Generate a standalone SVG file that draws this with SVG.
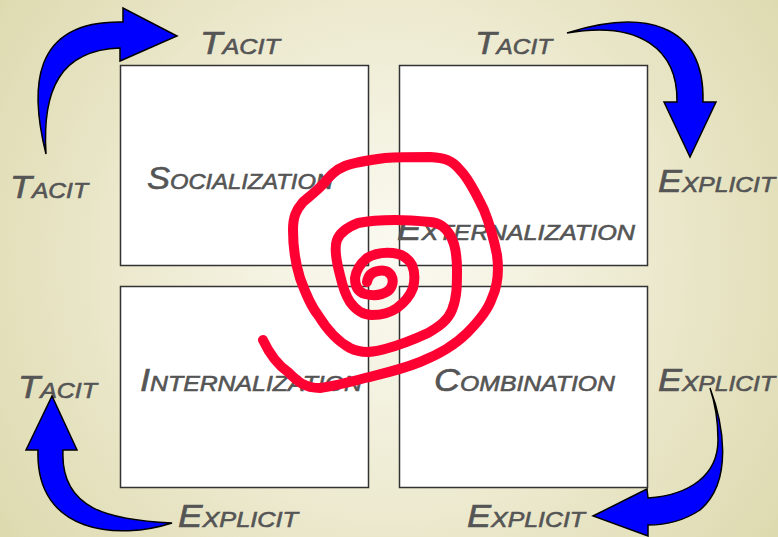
<svg xmlns="http://www.w3.org/2000/svg" width="778" height="537" viewBox="0 0 778 537">
  <defs>
    <radialGradient id="bg" cx="390" cy="260" r="470" gradientUnits="userSpaceOnUse">
      <stop offset="0" stop-color="#fbfaf2"/>
      <stop offset="0.35" stop-color="#f2f0dc"/>
      <stop offset="1" stop-color="#dedab0"/>
    </radialGradient>
    <style>
      .box { fill: #ffffff; stroke: #333333; stroke-width: 1.5; }
      .lbl { font-family: "Liberation Sans", "DejaVu Sans", sans-serif; font-style: italic; font-variant: small-caps; font-size: 32px; fill: #555555; stroke: #555555; stroke-width: 0.6; }
      .arrow { fill: #0000ff; stroke: #000000; stroke-width: 1.5; stroke-linejoin: miter; }
      .spiral { fill: none; stroke: #ff0033; stroke-width: 10; stroke-linecap: round; stroke-linejoin: round; }
    </style>
  </defs>

  <rect width="778" height="537" fill="url(#bg)"/>

  <!-- Quadrant boxes -->
  <g id="socialization">
    <rect class="box" x="120.5" y="65.5" width="248" height="200"/>
    <text class="lbl" x="147" y="189" textLength="186" lengthAdjust="spacingAndGlyphs">Socialization</text>
  </g>
  <g id="externalization">
    <rect class="box" x="399.5" y="65.5" width="248" height="200"/>
    <text class="lbl" x="397" y="240" textLength="238" lengthAdjust="spacingAndGlyphs">Externalization</text>
  </g>
  <g id="internalization">
    <rect class="box" x="120.5" y="286.5" width="248" height="201"/>
    <text class="lbl" x="140" y="391" textLength="222" lengthAdjust="spacingAndGlyphs">Internalization</text>
  </g>
  <g id="combination">
    <rect class="box" x="399.5" y="286.5" width="248" height="201"/>
    <text class="lbl" x="434" y="391" textLength="181" lengthAdjust="spacingAndGlyphs">Combination</text>
  </g>

  <!-- Corner labels -->
  <g id="tacit-top-left"><text class="lbl" x="200" y="54" textLength="80" lengthAdjust="spacingAndGlyphs">Tacit</text></g>
  <g id="tacit-left"><text class="lbl" x="10" y="198" textLength="78" lengthAdjust="spacingAndGlyphs">Tacit</text></g>
  <g id="tacit-top-right"><text class="lbl" x="475" y="54" textLength="77" lengthAdjust="spacingAndGlyphs">Tacit</text></g>
  <g id="explicit-right-top"><text class="lbl" x="658" y="192" textLength="117" lengthAdjust="spacingAndGlyphs">Explicit</text></g>
  <g id="explicit-right-bottom"><text class="lbl" x="658" y="391" textLength="117" lengthAdjust="spacingAndGlyphs">Explicit</text></g>
  <g id="explicit-bottom-right"><text class="lbl" x="467" y="527" textLength="118" lengthAdjust="spacingAndGlyphs">Explicit</text></g>
  <g id="explicit-bottom-left"><text class="lbl" x="178" y="527" textLength="120" lengthAdjust="spacingAndGlyphs">Explicit</text></g>
  <g id="tacit-bottom-left"><text class="lbl" x="18" y="398" textLength="79" lengthAdjust="spacingAndGlyphs">Tacit</text></g>

  <!-- Curved transition arrows -->
  <g id="connectors">
    <path class="arrow" d="M46,154 C30,90 30,20 123,22 L123,8 L177,36 L120,61 L120,48 C60,50 42,90 46,154 Z"/>
    <path class="arrow" d="M567,33 C640,10 705,20 703,102 L716,102 L690,157 L664,102 L677,102 C678,50 640,20 567,33 Z"/>
    <path class="arrow" d="M710,388 C722,420 735,480 700,510 C685,520 668,525 648,525 L648,536 L593,516 L647,489 L648,498 C690,495 718,475 718,440 C718,415 714,400 710,388 Z"/>
    <path class="arrow" d="M172,523 C120,540 35,535 38,450 L26,450 L52,396 L77,450 L63,450 C60,510 110,520 172,523 Z"/>
  </g>

  <!-- Hand-drawn spiral -->
  <path class="spiral" d="M263,340 C270,355 278,365 288,372 C298,382 305,388 320,388 C335,386 350,382 365,378 C385,373 400,370 420,362 C440,354 455,345 467,333 C480,320 488,310 492,298 C498,285 499,270 497,255 C494,240 490,225 484,210 C478,198 470,180 460,170 C452,160 445,158 430,157 C415,157 400,157 385,158 C370,160 355,162 345,166 C335,170 330,176 325,182 C318,190 310,196 303,202 C296,210 293,217 293,230 C293,245 295,262 300,278 C305,292 310,305 318,315 C326,328 335,340 350,348 C360,353 372,353 385,349 C400,345 415,339 428,333 C440,326 448,320 452,310 C457,298 457,285 457,270 C457,255 455,243 450,235 C445,227 440,223 430,222 C420,221 410,220 395,220 C380,220 368,221 358,223 C348,227 340,232 337,240 C334,248 336,260 340,275 C343,288 346,296 350,302 C356,310 362,315 372,315 C382,315 390,313 397,308 C405,302 410,296 413,288 C415,280 415,272 412,265 C408,258 402,254 393,253 C383,252 375,253 367,258 C360,264 356,270 355,278 C355,286 358,292 365,294 C373,296 382,295 388,291 C393,287 394,280 391,275 C388,271 383,270 378,271 C372,272 368,276 367,282"/>
</svg>
